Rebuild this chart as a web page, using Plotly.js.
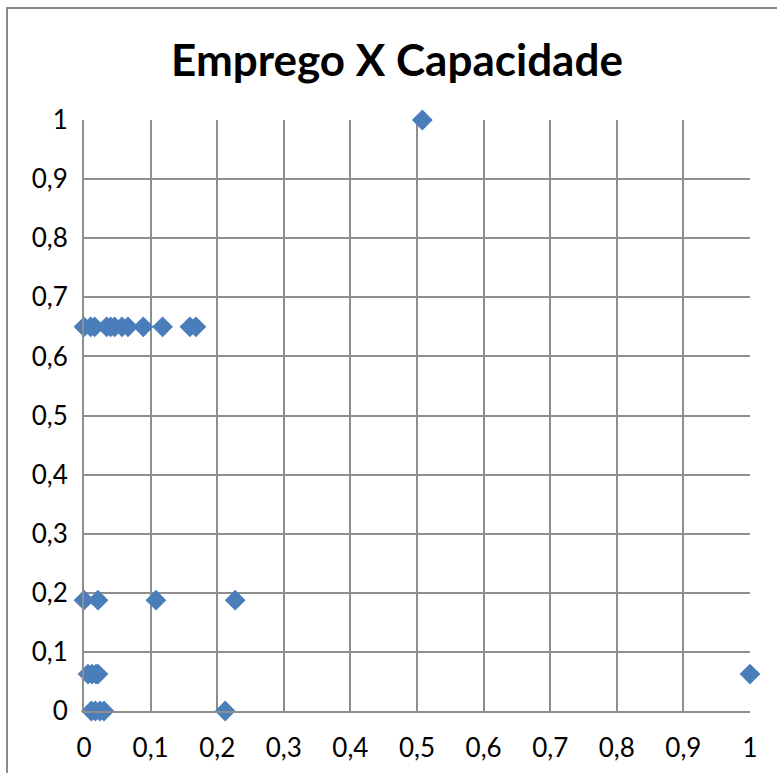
<!DOCTYPE html>
<html>
<head>
<meta charset="utf-8">
<script src="https://cdn.plot.ly/plotly-3.0.1.min.js"></script>
<style>
  html, body { margin: 0; padding: 0; background: #fff; overflow: hidden; }
  #chart { width: 777px; height: 773px; position: absolute; left: 0; top: 0; }
  #frame { position: absolute; left: 6px; top: 7px; width: 900px; height: 900px;
           border: 2.5px solid #8a8a8a; pointer-events: none; box-sizing: border-box; }
</style>
</head>
<body>
<div id="chart"></div>
<div id="frame"></div>
<script>
// Emprego (x) vs Capacidade (y)
const emprego = [
  0, 0.01, 0.016, 0.034, 0.04, 0.046, 0.057, 0.066, 0.089, 0.118, 0.159, 0.168,
  0, 0.021, 0.108, 0.227,
  0.006, 0.012, 0.018, 0.021, 1.0,
  0.011, 0.017, 0.024, 0.03, 0.212,
  0.508
];
const capacidade = [
  0.65, 0.65, 0.65, 0.65, 0.65, 0.65, 0.65, 0.65, 0.65, 0.65, 0.65, 0.65,
  0.1875, 0.1875, 0.1875, 0.1875,
  0.0625, 0.0625, 0.0625, 0.0625, 0.0625,
  0, 0, 0, 0, 0,
  1
];
const tickVals = [0, 0.1, 0.2, 0.3, 0.4, 0.5, 0.6, 0.7, 0.8, 0.9, 1];
const titleText = 'Emprego X Capacidade';

const trace = {
  x: emprego,
  y: capacidade,
  type: 'scatter',
  mode: 'markers',
  cliponaxis: false,
  marker: { symbol: 'diamond', size: 16, color: '#4a7ebb', line: { width: 0 } },
  hoverinfo: 'x+y'
};

const axisCommon = {
  range: [0, 1],
  tickvals: tickVals,
  showgrid: true,
  gridcolor: '#8e8e8e',
  gridwidth: 2,
  showline: true,
  linecolor: '#8e8e8e',
  linewidth: 2,
  mirror: false,
  zeroline: false,
  ticks: 'outside',
  tickcolor: 'rgba(0,0,0,0)',
  tickfont: { family: 'Lato, "Open Sans", sans-serif', size: 26, color: '#000' },
  fixedrange: true
};

const layout = {
  width: 777,
  height: 773,
  margin: { l: 84, r: 27, t: 120, b: 62 },
  paper_bgcolor: '#fff',
  plot_bgcolor: '#fff',
  separators: ', ',
  showlegend: false,
  title: {
    text: '<b>' + titleText + '</b>',
    font: { family: 'Lato, "Open Sans", sans-serif', size: 44, color: '#000' },
    x: 397 / 777, xanchor: 'center',
    y: 1 - 61 / 773, yanchor: 'middle'
  },
  xaxis: Object.assign({}, axisCommon, { ticklen: 13 }),
  yaxis: Object.assign({}, axisCommon, { ticklen: 9 })
};

Plotly.newPlot('chart', [trace], layout, { displayModeBar: false, staticPlot: true });
</script>
</body>
</html>
